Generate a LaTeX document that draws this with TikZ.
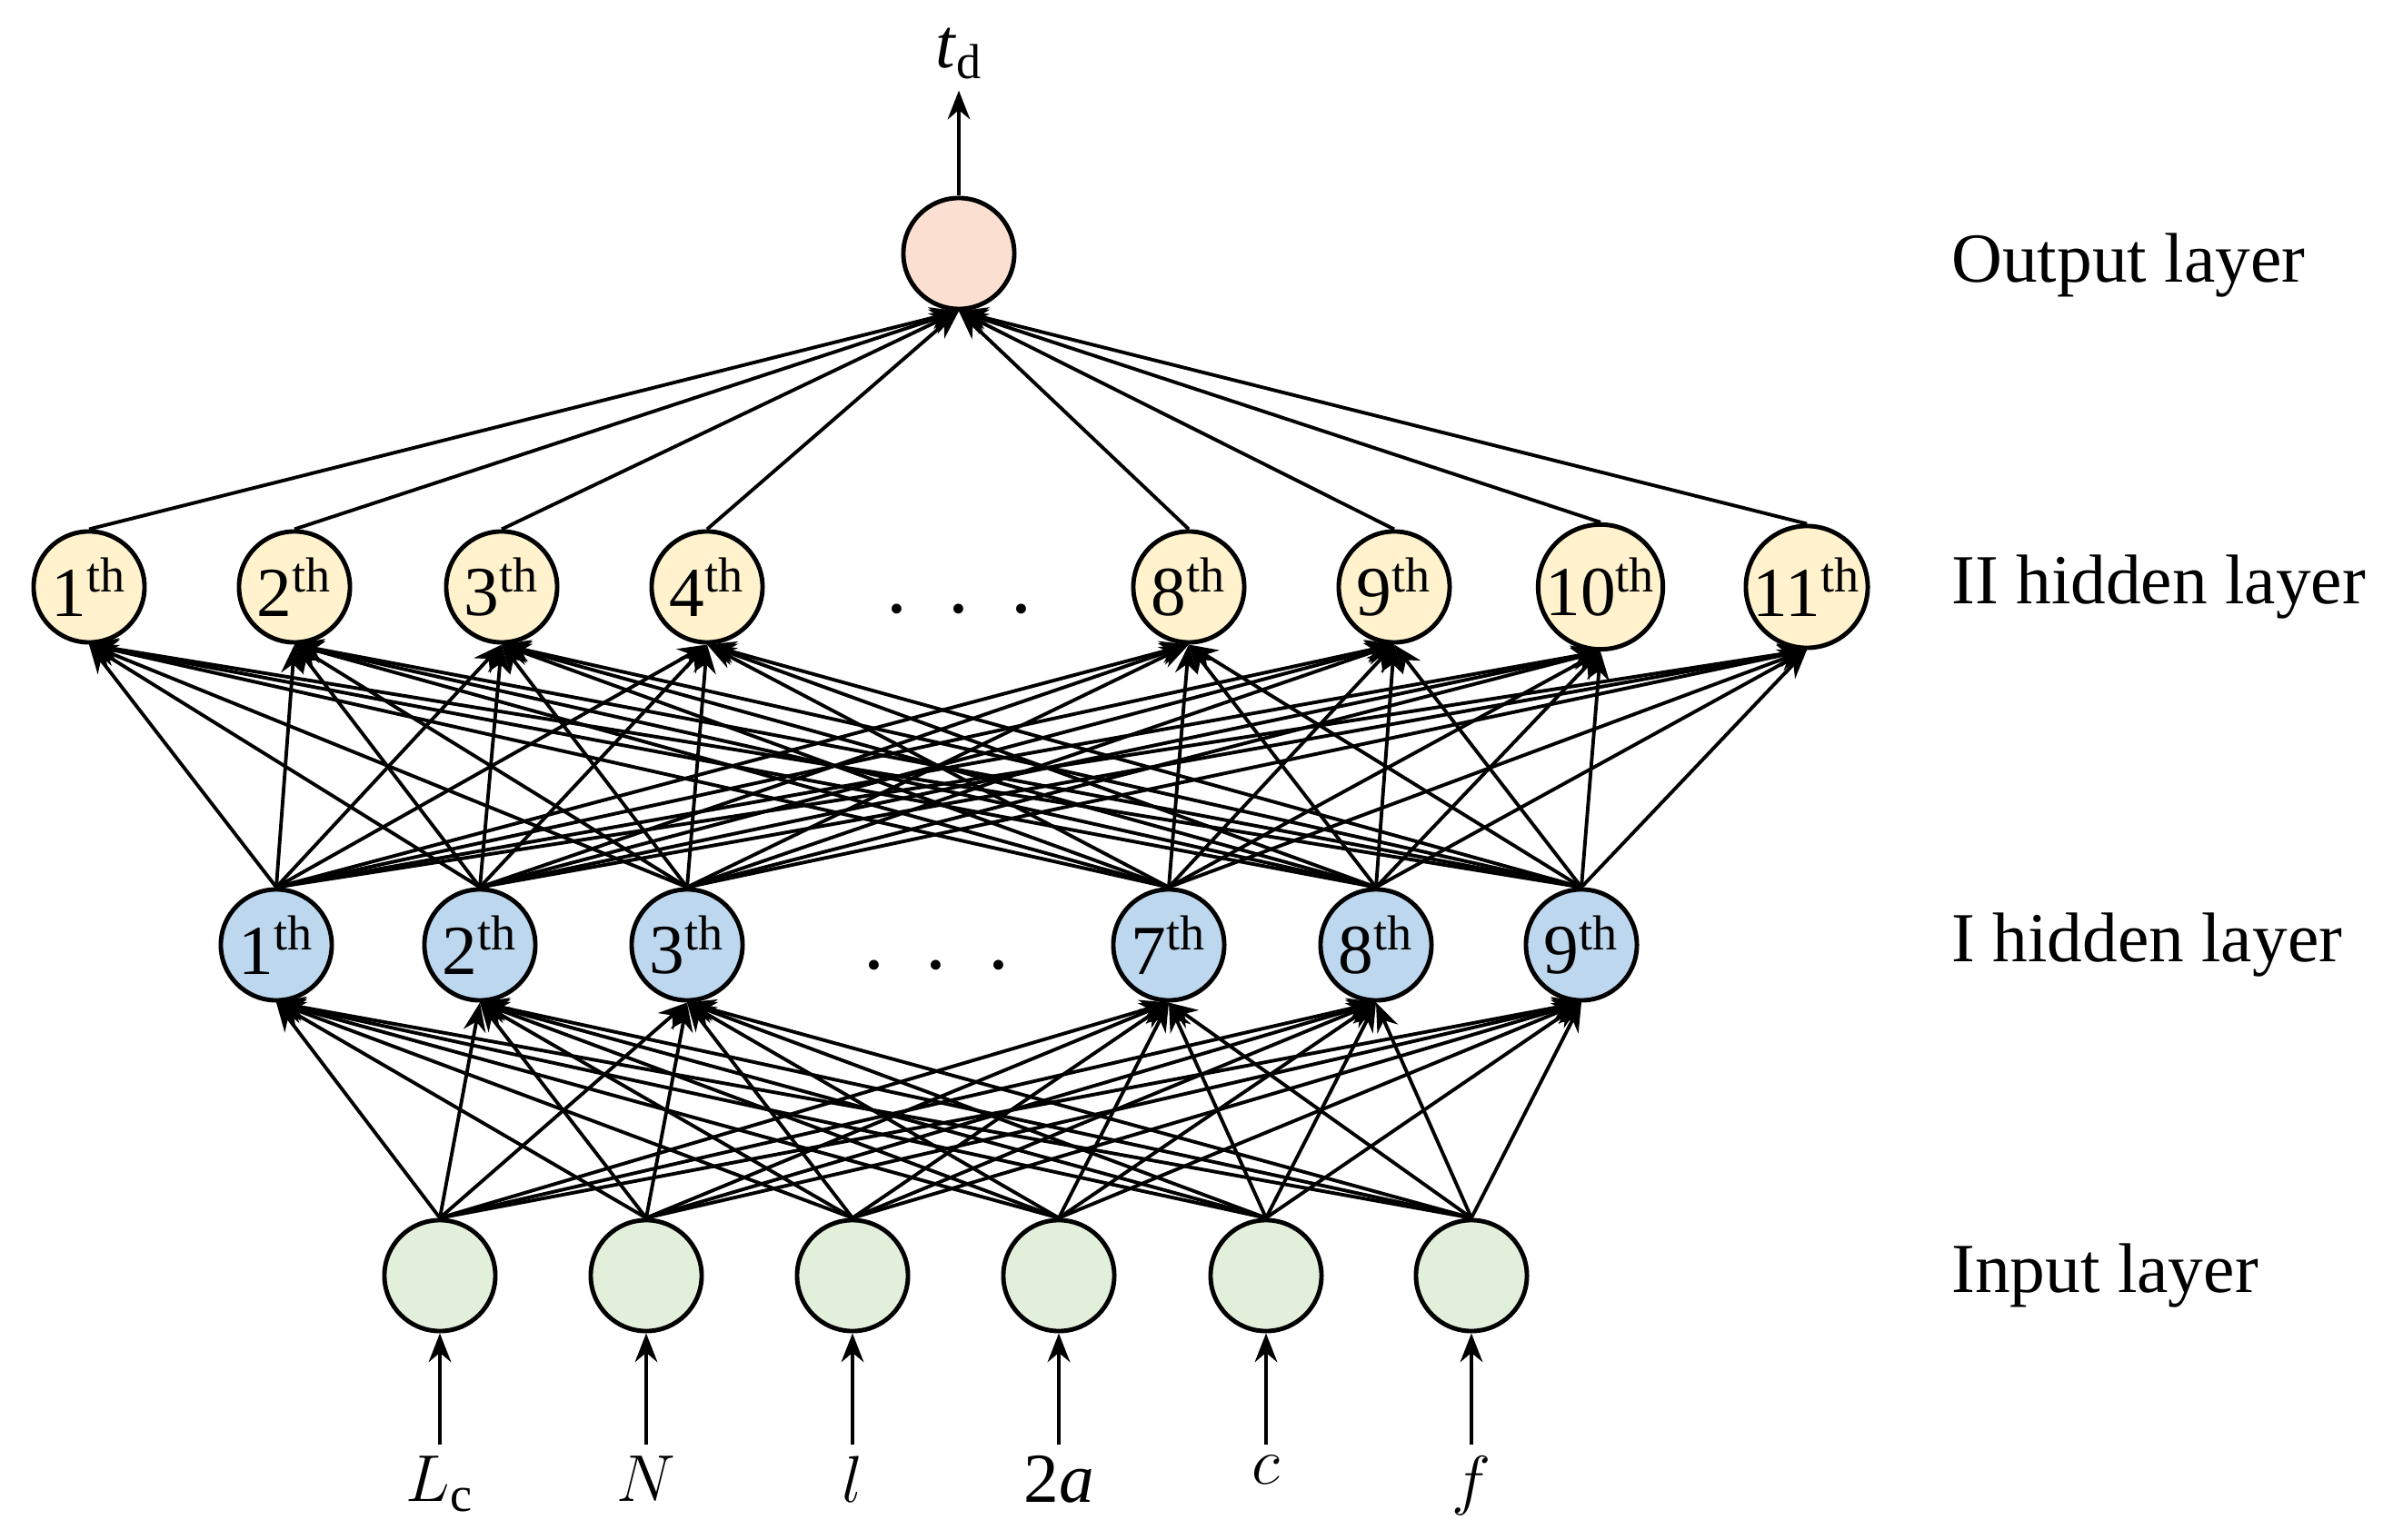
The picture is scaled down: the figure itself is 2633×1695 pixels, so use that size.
\documentclass[tikz,border=0pt]{standalone}
\usepackage{fontspec}
\setmainfont{Liberation Serif}
\usetikzlibrary{arrows.meta}
\begin{document}
\begin{tikzpicture}[x=0.01cm,y=-0.01cm,
 neuron/.style={circle,draw=black,line width=1.4pt,minimum size=1.22cm,inner sep=0pt,font=\fontsize{22}{24}\selectfont},
 conn/.style={line width=1.1pt,-{Stealth[length=9pt,width=7pt]}},
 lay/.style={anchor=west,font=\fontsize{22}{26}\selectfont},
 inl/.style={font=\fontsize{22}{26}\selectfont\itshape}]
\useasboundingbox (0,0) rectangle (2633,1695);
% output
\node[neuron,fill={rgb,255:red,251;green,224;blue,210}] (o) at (1055,279) {};
\node[font=\fontsize{22}{26}\selectfont] (td) at (1055,59) {\textit{t}\textsubscript{d}};
\draw[conn] (o.north) -- (td.south);
% II hidden
\foreach \x/\n/\l in {98/1/1,324/2/2,552/3/3,778/4/4,1308/5/8,1534/6/9,1761/7/10,1988/8/11}
  \node[neuron,fill={rgb,255:red,255;green,242;blue,204}] (h\n) at (\x,646) {\l\textsuperscript{th}};
\node[font=\fontsize{26}{26}\selectfont] (d2) at (1055,670) {.\hspace{0.5em}.\hspace{0.5em}.};
% I hidden
\foreach \x/\n/\l in {304/1/1,528/2/2,756/3/3,1286/4/7,1514/5/8,1740/6/9}
  \node[neuron,fill={rgb,255:red,189;green,215;blue,238}] (g\n) at (\x,1040) {\l\textsuperscript{th}};
\node[font=\fontsize{26}{26}\selectfont] (d1) at (1030,1062) {.\hspace{0.5em}.\hspace{0.5em}.};
% input
\foreach \x/\n/\l in {484/1/{$L_{\mathrm{c}}$},711/2/{$N$},938/3/{$l$},1165/4/{2\textit{a}},1393/5/{$c$},1619/6/{$f$}}{
  \node[neuron,fill={rgb,255:red,226;green,239;blue,218}] (i\n) at (\x,1404) {};
  \node[font=\fontsize{22}{26}\selectfont,anchor=north] (x\n) at (\x,1590) {\l};
  \draw[conn] (x\n.north) -- (i\n.south);
}
% connections
\foreach \a in {1,...,6} \foreach \b in {1,...,6} \draw[conn] (i\a.north) -- (g\b.south);
\foreach \a in {1,...,6} \foreach \b in {1,...,8} \draw[conn] (g\a.north) -- (h\b.south);
\foreach \a in {1,...,8} \draw[conn] (h\a.north) -- (o.south);
% layer labels
\node[lay] (l1) at (2135,292) {Output layer};
\node[lay] (l2) at (2135,646) {II hidden layer};
\node[lay] (l3) at (2135,1040) {I hidden layer};
\node[lay] (l4) at (2135,1404) {Input layer};
\end{tikzpicture}
\end{document}
